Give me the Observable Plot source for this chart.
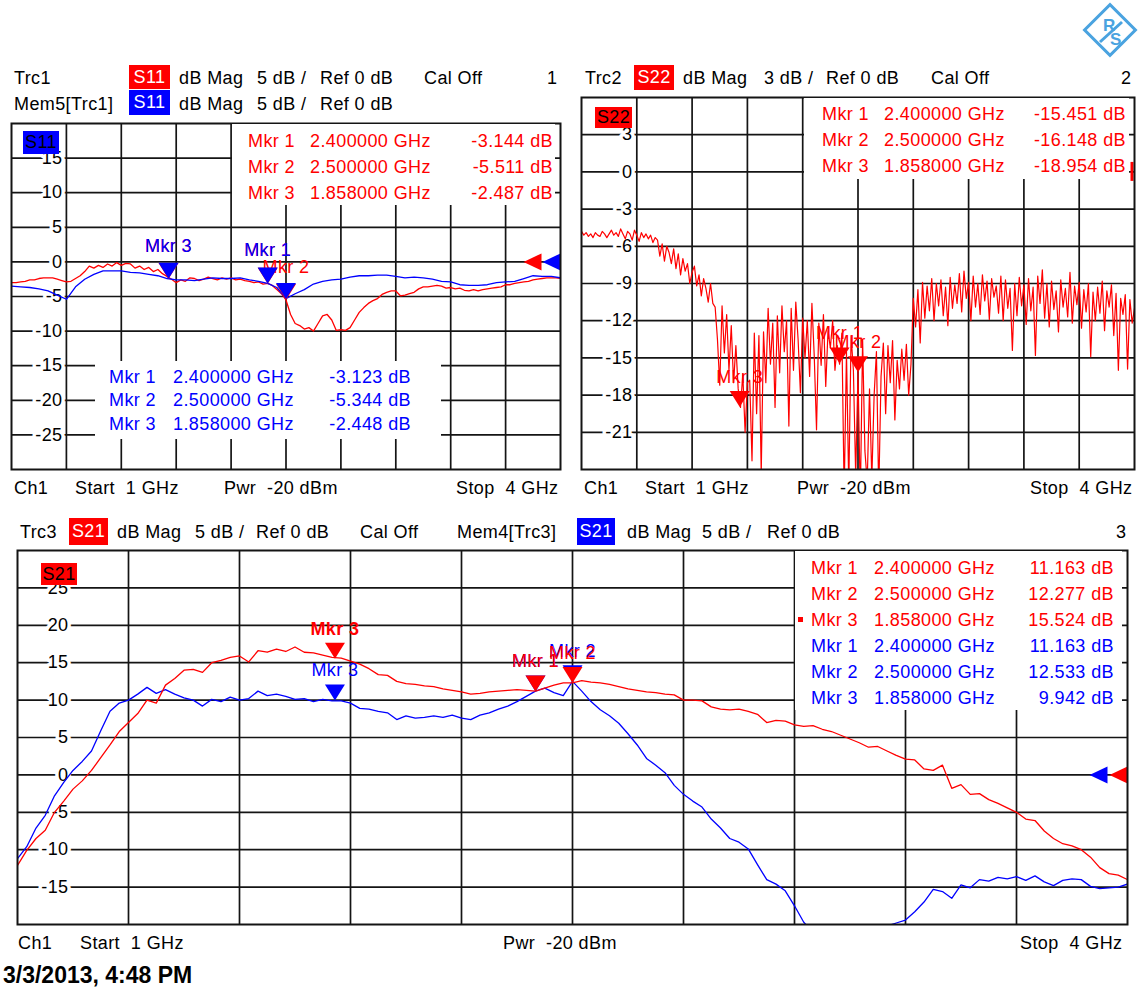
<!DOCTYPE html>
<html><head><meta charset="utf-8">
<script src="https://cdn.jsdelivr.net/npm/d3@7"></script>
<script src="https://cdn.jsdelivr.net/npm/@observablehq/plot@0.6"></script>
<style>
body{margin:0;background:#fff;}
#page{position:relative;width:1142px;height:988px;background:#fff;overflow:hidden;font-family:"Liberation Sans",Arial,sans-serif;font-size:18px;letter-spacing:0.4px;color:#000;}
.t{position:absolute;white-space:pre;line-height:20px;height:20px;}
.badge{position:absolute;display:flex;align-items:center;justify-content:center;white-space:pre;}
.box{position:absolute;background:#fff;}
</style></head><body><div id="page"></div>
<script>
// ---------- data ----------
const sweepStartGHz = 1, sweepStopGHz = 4;
const refLevelDb = 0;
const freqGridGHz = [1.3, 1.6, 1.9, 2.2, 2.5, 2.8, 3.1, 3.4, 3.7];
const s11TicksDb = [15, 10, 5, 0, -5, -10, -15, -20, -25];
const s22TicksDb = [3, 0, -3, -6, -9, -12, -15, -18, -21];
const s21TicksDb = [25, 20, 15, 10, 5, 0, -5, -10, -15];

// Trc1 S11 (red), 121 sweep points
const s11TraceDb = [
 -3.0,-3.0,-2.9,-2.8,-2.6,-2.6,-2.4,-2.3,-2.3,-2.3,
 -2.5,-2.7,-2.9,-2.8,-2.4,-2.0,-1.4,-0.6,-0.9,-0.5,
 -0.8,-0.3,-0.6,-0.1,-0.5,-0.2,-0.3,-0.9,-0.6,-1.1,
 -0.8,-1.4,-1.1,-1.7,-2.1,-2.5,-3.0,-2.6,-2.8,-2.3,
 -2.4,-2.7,-2.5,-2.2,-2.4,-2.6,-2.3,-2.5,-2.3,-2.6,
 -2.5,-2.7,-2.8,-3.0,-2.9,-3.2,-3.1,-3.4,-4.0,-4.6,
 -5.5,-7.6,-8.9,-9.2,-9.7,-9.5,-10.0,-8.9,-7.8,-7.6,
 -8.4,-9.9,-9.8,-9.9,-9.5,-8.4,-7.3,-6.6,-6.0,-5.6,
 -5.3,-4.7,-4.4,-4.2,-4.2,-4.9,-4.8,-4.6,-4.4,-3.9,
 -3.6,-3.6,-3.5,-3.4,-3.5,-3.8,-3.7,-3.9,-3.8,-4.1,
 -4.2,-4.0,-4.2,-4.0,-3.9,-3.8,-3.7,-3.6,-3.3,-3.3,
 -3.1,-3.0,-2.9,-2.8,-2.6,-2.5,-2.4,-2.3,-2.3,-2.3,
 -2.4];
// Mem5[Trc1] S11 (blue), 61 sweep points
const s11MemDb = [
 -3.5,-3.6,-3.7,-3.9,-4.2,-4.8,-5.4,-3.6,-2.5,-1.8,
 -1.3,-1.3,-1.3,-1.5,-1.6,-1.8,-2.0,-2.4,-2.6,-2.6,
 -2.7,-2.5,-2.3,-2.4,-2.4,-2.3,-2.6,-2.8,-3.1,-3.7,
 -5.3,-4.6,-4.0,-3.2,-2.8,-2.6,-2.5,-2.2,-2.0,-2.0,
 -1.9,-1.9,-2.1,-2.3,-2.2,-2.3,-2.5,-2.8,-2.9,-3.3,
 -3.4,-3.4,-3.3,-3.0,-2.9,-2.8,-2.4,-2.0,-2.1,-2.1,
 -2.3];
// Trc2 S22 (red), 241 sweep points
const s22TraceDb = [
 -4.8,-5.1,-4.9,-5.2,-5.0,-5.3,-4.9,-5.1,-5.2,-4.8,
 -5.0,-5.3,-5.0,-4.7,-5.1,-4.9,-5.2,-4.6,-5.0,-5.4,
 -4.8,-5.0,-5.5,-4.7,-5.1,-5.6,-4.9,-5.3,-5.0,-5.4,
 -5.1,-5.7,-5.3,-5.5,-6.8,-5.8,-7.2,-6.0,-6.5,-7.4,
 -6.2,-7.8,-6.6,-8.3,-7.0,-8.0,-7.4,-9.0,-8.1,-7.6,
 -9.2,-8.3,-10.0,-8.6,-9.4,-10.5,-9.0,-10.6,-10.9,-13.5,
 -17.2,-10.8,-14.6,-11.5,-16.0,-12.4,-17.0,-14.0,-17.5,-19.0,
 -16.3,-21.0,-17.0,-16.8,-23.3,-13.0,-19.5,-13.2,-24.3,-12.9,
 -17.0,-11.0,-15.5,-12.2,-19.0,-11.6,-16.2,-10.8,-14.5,-12.0,
 -20.5,-11.0,-16.0,-10.5,-13.5,-17.8,-11.8,-15.0,-12.0,-16.5,
 -10.6,-14.8,-20.8,-12.2,-15.6,-11.5,-17.3,-12.8,-14.2,-12.0,
 -16.0,-14.0,-15.5,-13.0,-26.0,-14.5,-25.5,-13.2,-16.0,-24.5,
 -16.1,-26.5,-13.5,-22.5,-25.0,-17.5,-24.8,-18.0,-14.5,-26.0,
 -16.5,-13.8,-19.5,-14.0,-17.0,-13.6,-20.0,-15.2,-17.5,-14.3,
 -16.8,-13.9,-18.0,-15.5,-10.2,-12.5,-9.5,-13.8,-8.9,-11.8,
 -9.2,-11.2,-8.6,-12.0,-9.0,-10.8,-8.7,-11.6,-9.3,-12.4,
 -8.5,-11.0,-9.1,-10.6,-8.2,-11.3,-8.0,-10.2,-8.9,-12.0,
 -8.4,-10.9,-9.0,-11.5,-8.3,-10.4,-8.8,-11.9,-8.6,-10.1,
 -9.2,-11.4,-8.4,-12.0,-8.7,-11.0,-9.4,-14.4,-9.0,-11.6,
 -8.5,-10.8,-9.1,-12.3,-8.6,-11.2,-9.3,-14.8,-8.4,-10.6,
 -7.9,-11.8,-9.0,-12.5,-8.8,-11.1,-9.6,-12.9,-8.7,-10.9,
 -9.4,-11.7,-8.1,-12.2,-9.2,-10.7,-8.9,-12.6,-9.5,-11.3,
 -9.0,-14.9,-9.7,-12.0,-9.3,-11.4,-8.8,-12.8,-9.6,-10.9,
 -9.1,-13.2,-9.8,-16.0,-10.2,-11.5,-9.9,-15.9,-10.3,-12.2,
 -11.0];
// Trc3 S21 (red), 121 sweep points
const s21TraceDb = [
 -12.1,-10.1,-8.5,-7.4,-5.0,-3.5,-1.9,-0.8,0.6,2.3,
 4.0,5.8,7.0,8.2,10.0,9.6,12.0,12.9,14.0,14.1,
 13.7,15.0,15.3,15.7,15.9,15.1,16.6,16.4,16.8,16.5,
 17.1,16.4,16.3,16.0,15.7,15.6,15.2,14.8,14.2,13.4,
 13.3,12.5,12.2,12.1,11.9,11.8,11.5,11.3,11.1,10.8,
 10.9,11.1,11.2,11.3,11.4,11.3,11.2,11.6,12.0,12.3,
 12.3,12.6,12.4,12.3,12.1,11.8,11.5,11.3,11.1,11.0,
 10.8,10.7,10.0,10.0,9.9,9.1,8.8,8.7,8.8,8.5,
 8.1,7.0,7.3,7.2,6.7,6.5,6.6,6.1,5.8,5.3,
 4.8,4.3,3.7,3.8,3.2,2.6,2.1,2.0,0.8,0.6,
 1.3,-1.8,-1.3,-2.6,-2.5,-3.3,-3.8,-4.4,-5.0,-5.9,
 -6.1,-7.5,-8.5,-9.2,-9.5,-10.0,-11.0,-12.4,-13.2,-13.4,
 -14.0];
// Mem4[Trc3] S21 (blue), 121 sweep points
const s21MemDb = [
 -11.2,-9.6,-7.1,-5.4,-2.8,-1.0,0.6,1.8,3.2,5.9,
 8.5,9.6,10.0,10.8,11.7,10.9,11.4,10.8,10.3,10.0,
 9.2,10.1,9.8,10.4,10.0,10.2,11.2,10.6,10.8,10.5,
 10.1,10.2,9.8,10.1,9.9,9.9,9.6,8.9,8.8,8.5,
 8.3,7.4,7.9,7.6,7.7,7.9,7.7,8.0,7.6,7.4,
 8.0,8.3,8.8,9.2,9.8,10.5,11.2,11.6,11.0,10.6,
 12.5,11.2,9.8,8.7,7.9,6.9,5.5,4.0,2.2,1.3,
 0.3,-1.4,-2.6,-3.5,-4.3,-5.9,-7.1,-8.5,-9.0,-9.9,
 -12.0,-14.0,-14.6,-15.5,-17.5,-19.7,-21.0,-22.0,-22.6,-23.0,
 -23.2,-23.0,-22.4,-21.2,-20.2,-19.8,-19.4,-18.3,-17.0,-15.3,
 -15.6,-16.5,-14.7,-15.1,-14.0,-14.2,-13.7,-13.9,-13.6,-14.1,
 -13.5,-14.3,-14.8,-14.1,-13.9,-14.0,-14.9,-15.2,-15.1,-15.0,
 -14.6];

const markerNames = ["Mkr 1", "Mkr 2", "Mkr 3"];
const markerFreqGHz = [2.4, 2.5, 1.858];
const s11MarkerDb = [-3.144, -5.511, -2.487];
const s11MemMarkerDb = [-3.123, -5.344, -2.448];
const s22MarkerDb = [-15.451, -16.148, -18.954];
const s21MarkerDb = [11.163, 12.277, 15.524];
const s21MemMarkerDb = [11.163, 12.533, 9.942];
const activeMarker = "Mkr 3";

// ---------- helpers ----------
const page = document.getElementById("page");
const RED = "#ff0000", BLUE = "#0000ff", GRID = "#141414";
const FONT = '"Liberation Sans", Arial, sans-serif';

function sweep(values) {
  const n = values.length;
  return values.map((db, i) => ({f: sweepStartGHz + i * (sweepStopGHz - sweepStartGHz) / (n - 1), db}));
}
function markers(dbs) {
  return markerNames.map((name, i) => ({name, f: markerFreqGHz[i], db: dbs[i]}));
}
const downTri = {draw(ctx) { ctx.moveTo(0, 0); ctx.lineTo(-10, -16); ctx.lineTo(10, -16); ctx.closePath(); }};
const leftTri = {draw(ctx) { ctx.moveTo(0, -8.5); ctx.lineTo(-18, 0); ctx.lineTo(0, 8.5); ctx.closePath(); }};
const refBar = {draw(ctx) { ctx.rect(-4, -10, 3, 19); }};

function panel({fx, fy, fw, fh, yDomain, yTicks, marks}) {
  const pad = 3;
  const svg = Plot.plot({
    width: fw + 2 * pad, height: fh + 2 * pad, margin: pad,
    x: {domain: [sweepStartGHz, sweepStopGHz], axis: null},
    y: {domain: yDomain, axis: null},
    style: `font-family:${FONT};font-size:18px;letter-spacing:0.4px;background:transparent;overflow:visible;`,
    marks: [
      Plot.ruleX(freqGridGHz, {stroke: GRID, strokeWidth: 1.7}),
      Plot.ruleY(yTicks, {stroke: GRID, strokeWidth: 1.7}),
      Plot.text(yTicks, {y: d => d, text: d => String(d), frameAnchor: "left", dx: 51, textAnchor: "end",
        fill: "#000", stroke: "#fff", strokeWidth: 7, paintOrder: "stroke"}),
      ...marks,
      Plot.frame({stroke: GRID, strokeWidth: 2})
    ]
  });
  svg.style.position = "absolute";
  svg.style.left = (fx - pad) + "px";
  svg.style.top = (fy - pad) + "px";
  page.appendChild(svg);
}

function txt(x, cy, s, o = {}) {
  const d = document.createElement("div");
  d.className = "t";
  d.textContent = s;
  d.style.top = (cy - 10) + "px";
  if (o.end) d.style.right = (1142 - x) + "px"; else d.style.left = x + "px";
  if (o.color) d.style.color = o.color;
  if (o.css) d.style.cssText += o.css;
  page.appendChild(d);
  return d;
}
function badge(x, y, w, h, s, bg, color) {
  const d = document.createElement("div");
  d.className = "badge";
  d.textContent = s;
  Object.assign(d.style, {left: x + "px", top: y + "px", width: w + "px", height: h + "px", background: bg, color});
  page.appendChild(d);
}
function box(x, y, w, h) {
  const d = document.createElement("div");
  d.className = "box";
  Object.assign(d.style, {left: x + "px", top: y + "px", width: w + "px", height: h + "px"});
  page.appendChild(d);
}
function table(rows, xLabel, xFreq, xValEnd, ys) {
  rows.forEach((r, i) => {
    txt(xLabel, ys[i], r.name, {color: r.color});
    txt(xFreq, ys[i], r.f.toFixed(6) + " GHz", {color: r.color});
    txt(xValEnd, ys[i], r.db.toFixed(3) + " dB", {color: r.color, end: true});
  });
}
const xy = {x: "f", y: "db"};

// ---------- panel 1 : S11 ----------
const mk11 = markers(s11MarkerDb), mk11m = markers(s11MemMarkerDb);
panel({
  fx: 11, fy: 123, fw: 549, fh: 346, yDomain: [-30, 20], yTicks: s11TicksDb,
  marks: [
    Plot.line(sweep(s11TraceDb), {...xy, stroke: RED, strokeWidth: 1.3, clip: true}),
    Plot.line(sweep(s11MemDb), {...xy, stroke: BLUE, strokeWidth: 1.3, clip: true}),
    Plot.dot([refLevelDb], {y: d => d, frameAnchor: "right", dx: -19, symbol: leftTri, fill: RED, stroke: null}),
    Plot.dot([refLevelDb], {y: d => d, frameAnchor: "right", symbol: leftTri, fill: BLUE, stroke: null}),
    Plot.dot(mk11, {...xy, symbol: downTri, fill: RED, stroke: null}),
    Plot.text(mk11, {...xy, text: "name", dy: -33, fill: RED}),
    Plot.dot(mk11m, {...xy, symbol: downTri, fill: BLUE, stroke: null}),
    Plot.text(mk11m, {...xy, filter: d => d.name !== "Mkr 2", text: "name", dy: -33, fill: BLUE})
  ]
});

// ---------- panel 2 : S22 ----------
const mk22 = markers(s22MarkerDb);
panel({
  fx: 581, fy: 97, fw: 553, fh: 372, yDomain: [-24, 6], yTicks: s22TicksDb,
  marks: [
    Plot.text(mk22, {...xy, text: "name", dy: -30, fill: RED}),
    Plot.line(sweep(s22TraceDb), {...xy, stroke: RED, strokeWidth: 1.2, clip: true}),
    Plot.dot(mk22, {...xy, symbol: downTri, fill: RED, stroke: null}),
    Plot.dot([refLevelDb], {y: d => d, frameAnchor: "right", symbol: refBar, fill: RED, stroke: null})
  ]
});

// ---------- panel 3 : S21 ----------
const mk21 = markers(s21MarkerDb), mk21m = markers(s21MemMarkerDb);
panel({
  fx: 17, fy: 550, fw: 1110, fh: 374, yDomain: [-20, 30], yTicks: s21TicksDb,
  marks: [
    Plot.line(sweep(s21MemDb), {...xy, stroke: BLUE, strokeWidth: 1.3, clip: true}),
    Plot.line(sweep(s21TraceDb), {...xy, stroke: RED, strokeWidth: 1.3, clip: true}),
    Plot.dot([refLevelDb], {y: d => d, frameAnchor: "right", dx: -20, symbol: leftTri, fill: BLUE, stroke: null}),
    Plot.dot([refLevelDb], {y: d => d, frameAnchor: "right", symbol: leftTri, fill: RED, stroke: null}),
    Plot.dot(mk21m, {...xy, symbol: downTri, fill: BLUE, stroke: null}),
    Plot.text(mk21m, {...xy, text: "name", dy: -30, fill: BLUE}),
    Plot.dot(mk21, {...xy, symbol: downTri, fill: RED, stroke: null}),
    Plot.text(mk21, {...xy, filter: d => d.name !== activeMarker, text: "name", dy: -30, fill: RED}),
    Plot.text(mk21, {...xy, filter: d => d.name === activeMarker, text: "name", dy: -30, fill: RED, fontWeight: "bold"})
  ]
});

// ---------- marker readout tables ----------
box(232, 124, 323, 81);
table(mk11.map(d => ({...d, color: RED})), 248, 310, 553, [141, 167, 193]);
box(95, 361, 346, 78);
table(mk11m.map(d => ({...d, color: BLUE})), 109, 173, 411, [377, 400, 424]);
box(804, 98, 325, 81);
table(mk22.map(d => ({...d, color: RED})), 822, 884, 1126, [114, 140, 166]);
box(795, 551, 327, 159);
table([...mk21.map(d => ({...d, color: RED})), ...mk21m.map(d => ({...d, color: BLUE}))],
      811, 874, 1114, [568, 594, 620, 646, 672, 698]);
const sq = document.createElement("div");
Object.assign(sq.style, {position: "absolute", left: "798px", top: "617px", width: "5px", height: "5px", background: RED});
page.appendChild(sq);

// ---------- in-plot trace badges ----------
badge(23, 131, 36, 23, "S11", BLUE, "#000");
badge(595, 107, 37, 21, "S22", RED, "#000");
badge(41, 563, 36, 22, "S21", RED, "#000");

// ---------- headers ----------
txt(14, 78, "Trc1"); badge(129, 65, 41, 24, "S11", RED, "#fff");
txt(179, 78, "dB Mag"); txt(257, 78, "5 dB /"); txt(320, 78, "Ref 0 dB"); txt(424, 78, "Cal Off"); txt(547, 78, "1");
txt(14, 104, "Mem5[Trc1]"); badge(129, 90, 41, 25, "S11", BLUE, "#fff");
txt(179, 104, "dB Mag"); txt(257, 104, "5 dB /"); txt(320, 104, "Ref 0 dB");

txt(585, 78, "Trc2"); badge(634, 65, 40, 25, "S22", RED, "#fff");
txt(683, 78, "dB Mag"); txt(764, 78, "3 dB /"); txt(826, 78, "Ref 0 dB"); txt(931, 78, "Cal Off"); txt(1121, 78, "2");

txt(20, 532, "Trc3"); badge(69, 518, 39, 27, "S21", RED, "#fff");
txt(117, 532, "dB Mag"); txt(195, 532, "5 dB /"); txt(256, 532, "Ref 0 dB"); txt(360, 532, "Cal Off");
txt(457, 532, "Mem4[Trc3]"); badge(577, 518, 38, 27, "S21", BLUE, "#fff");
txt(627, 532, "dB Mag"); txt(702, 532, "5 dB /"); txt(767, 532, "Ref 0 dB"); txt(1116, 532, "3");

// ---------- footers ----------
txt(14, 488, "Ch1"); txt(75, 488, "Start  1 GHz"); txt(224, 488, "Pwr  -20 dBm"); txt(456, 488, "Stop  4 GHz");
txt(584, 488, "Ch1"); txt(645, 488, "Start  1 GHz"); txt(797, 488, "Pwr  -20 dBm"); txt(1030, 488, "Stop  4 GHz");
txt(18, 943, "Ch1"); txt(80, 943, "Start  1 GHz"); txt(503, 943, "Pwr  -20 dBm"); txt(1020, 943, "Stop  4 GHz");
txt(3, 975, "3/3/2013, 4:48 PM", {css: "font-weight:bold;font-size:23px;letter-spacing:0;line-height:24px;height:24px;top:963px;"});

// ---------- logo ----------
const logo = document.createElementNS("http://www.w3.org/2000/svg", "svg");
logo.setAttribute("width", "60"); logo.setAttribute("height", "60");
logo.style.cssText = "position:absolute;left:1080px;top:0px;";
logo.innerHTML = `<rect x="12" y="12" width="36" height="36" transform="rotate(45 30 30)" fill="#fff" stroke="#4aa3e0" stroke-width="3"/>
<text x="23" y="31" font-family="Liberation Sans, Arial" font-weight="bold" font-size="17" fill="#4aa3e0">R</text>
<text x="30" y="45" font-family="Liberation Sans, Arial" font-weight="bold" font-size="17" fill="#4aa3e0">S</text>
<line x1="20" y1="42" x2="42" y2="22" stroke="#4aa3e0" stroke-width="3"/>`;
page.appendChild(logo);
</script></body></html>
